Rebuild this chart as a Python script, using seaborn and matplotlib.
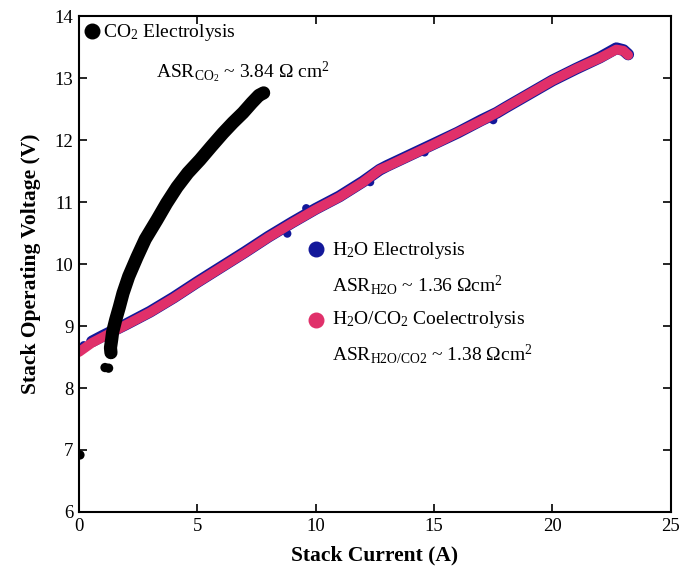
import matplotlib
matplotlib.use("Agg")
import matplotlib.pyplot as plt
import seaborn as sns
import pandas as pd

# ---- data ----
co2_current = [1.35, 1.33, 1.38, 1.42, 1.55, 1.70, 1.86, 2.10, 2.45, 2.80, 3.29, 3.70,
               4.14, 4.60, 5.11, 5.60, 6.08, 6.50, 6.93, 7.30, 7.60, 7.80]
co2_voltage = [8.57, 8.65, 8.78, 8.90, 9.10, 9.30, 9.53, 9.80, 10.11, 10.40, 10.71, 10.98,
               11.24, 11.47, 11.68, 11.90, 12.11, 12.28, 12.44, 12.60, 12.72, 12.76]
co2_out_current = [0.04, 1.10, 1.25]
co2_out_voltage = [6.92, 8.33, 8.32]

h2o_current = [0.55, 1.0, 2.0, 3.0, 4.0, 5.0, 6.0, 7.0, 8.0, 9.0, 10.0, 11.0, 12.0,
               12.7, 13.0, 14.0, 15.0, 16.0, 17.0, 17.65, 18.0, 19.0, 20.0, 21.0,
               22.0, 22.7, 23.0, 23.2]
h2o_voltage = [8.75, 8.84, 9.03, 9.23, 9.46, 9.71, 9.95, 10.19, 10.44, 10.67, 10.89,
               11.09, 11.33, 11.52, 11.58, 11.76, 11.94, 12.12, 12.32, 12.44, 12.52,
               12.74, 12.96, 13.15, 13.33, 13.48, 13.45, 13.38]
h2o_out_current = [0.20, 8.8, 9.6, 12.3, 14.6, 17.5]
h2o_out_voltage = [8.69, 10.49, 10.90, 11.32, 11.80, 12.32]

mix_current = [0.0, 0.55, 1.0, 2.0, 3.0, 4.0, 5.0, 6.0, 7.0, 8.0, 9.0, 10.0, 11.0, 12.0,
               12.7, 13.0, 14.0, 15.0, 16.0, 17.0, 17.65, 18.0, 19.0, 20.0, 21.0, 22.0,
               22.7, 23.0, 23.2]
mix_voltage = [8.58, 8.73, 8.82, 9.02, 9.22, 9.45, 9.70, 9.94, 10.18, 10.43, 10.66, 10.88,
               11.08, 11.32, 11.52, 11.57, 11.75, 11.93, 12.12, 12.31, 12.44, 12.52, 12.74,
               12.96, 13.15, 13.32, 13.46, 13.44, 13.37]

x_ticks = [0, 5, 10, 15, 20, 25]
y_ticks = [6, 7, 8, 9, 10, 11, 12, 13, 14]

BLUE = "#13189a"
PINK = "#e0306a"

sns.set_theme(style="ticks")
plt.rcParams["font.family"] = ["Liberation Serif", "DejaVu Serif"]
plt.rcParams["mathtext.fontset"] = "custom"
plt.rcParams["mathtext.rm"] = "Liberation Serif"
plt.rcParams["mathtext.it"] = "Liberation Serif:italic"
plt.rcParams["mathtext.bf"] = "Liberation Serif:bold"
plt.rcParams["text.color"] = "black"
plt.rcParams["axes.labelcolor"] = "black"

fig = plt.figure(figsize=(6.81, 5.68), dpi=100)
ax = fig.add_axes([0.116, 0.0986, 0.869, 0.8732])

co2 = pd.DataFrame({"I": co2_current, "V": co2_voltage})
h2o = pd.DataFrame({"I": h2o_current, "V": h2o_voltage})
mix = pd.DataFrame({"I": mix_current, "V": mix_voltage})

sns.lineplot(data=h2o, x="I", y="V", sort=False, color=BLUE, lw=8.5, ax=ax,
             solid_capstyle="round", solid_joinstyle="round")
sns.scatterplot(x=h2o_out_current, y=h2o_out_voltage, color=BLUE, s=35,
                edgecolor="none", ax=ax)
sns.lineplot(data=mix, x="I", y="V", sort=False, color=PINK, lw=7, ax=ax,
             solid_capstyle="round", solid_joinstyle="round")
sns.lineplot(data=co2, x="I", y="V", sort=False, color="black", lw=9.5, ax=ax,
             solid_capstyle="round", solid_joinstyle="round")
sns.scatterplot(x=co2_out_current, y=co2_out_voltage, color="black", s=45,
                edgecolor="none", ax=ax)

ax.set_xlim(0, 25)
ax.set_ylim(6, 14)
ax.set_xticks(x_ticks)
ax.set_yticks(y_ticks)
ax.tick_params(direction="in", length=6, width=1.2, top=True, right=True,
               labelsize=13.5, colors="black", pad=4)
for s in ax.spines.values():
    s.set_linewidth(1.5)
    s.set_color("black")

ax.set_xlabel("Stack Current (A)", fontsize=15.5, fontweight="bold", labelpad=8)
ax.set_ylabel("Stack Operating Voltage (V)", fontsize=15.5, fontweight="bold", labelpad=10)

# legend-like annotations
fs = 14
ax.scatter([0.55], [13.76], s=110, color="black", zorder=5)
ax.text(1.0, 13.74, r"CO$_2$ Electrolysis", fontsize=fs, va="center")
ax.text(3.25, 13.1, r"ASR$_{\mathrm{CO_2}}$ ~ 3.84 Ω cm$^2$", fontsize=fs, va="center")

ax.scatter([10.0], [10.25], s=110, color=BLUE, zorder=5)
ax.text(10.7, 10.22, r"H$_2$O Electrolysis", fontsize=fs, va="center")
ax.text(10.7, 9.66, r"ASR$_{\mathrm{H2O}}$ ~ 1.36 Ωcm$^2$", fontsize=fs, va="center")
ax.scatter([10.0], [9.1], s=110, color=PINK, zorder=5)
ax.text(10.7, 9.1, r"H$_2$O/CO$_2$ Coelectrolysis", fontsize=fs, va="center")
ax.text(10.7, 8.54, r"ASR$_{\mathrm{H2O/CO2}}$ ~ 1.38 Ωcm$^2$", fontsize=fs, va="center")

fig.savefig("out.png", dpi=100)
